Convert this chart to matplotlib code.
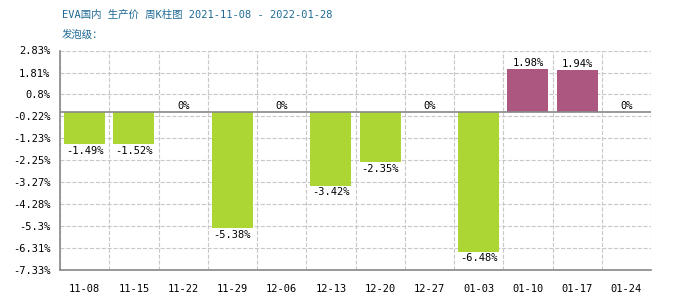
import matplotlib
matplotlib.use("Agg")
from matplotlib import pyplot as plt
import numpy as np

plt.rcParams['font.family'] = ['DejaVu Sans Mono', 'Noto Sans CJK SC']

weeks = ["11-08", "11-15", "11-22", "11-29", "12-06", "12-13",
         "12-20", "12-27", "01-03", "01-10", "01-17", "01-24"]
changes = [-1.49, -1.52, 0, -5.38, 0, -3.42, -2.35, 0, -6.48, 1.98, 1.94, 0]
yticks = [2.83, 1.81, 0.8, -0.22, -1.23, -2.25, -3.27, -4.28, -5.3, -6.31, -7.33]

green = "#acd634"
pink = "#ab5780"

fig = plt.figure(figsize=(7, 3), dpi=100)
ax = fig.add_axes([60/700, 30/300, 591/700, 219.5/300])

x = np.arange(len(weeks))
colors = [pink if v > 0 else green for v in changes]
ax.bar(x, changes, width=0.83, color=colors, zorder=3)

for xi, v in zip(x, changes):
    lab = f"{v:g}%"
    if v < 0:
        ax.text(xi, v - 0.08, lab, ha='center', va='top', fontsize=7.5, zorder=4)
    else:
        ax.text(xi, v + 0.03, lab, ha='center', va='bottom', fontsize=7.5, zorder=4)

ax.axhline(0, color='#888888', linewidth=1.2, zorder=3)

ax.set_xlim(-0.5, len(weeks) - 0.5)
ax.set_ylim(-7.33, 2.83)
ax.set_yticks(yticks)
ax.set_yticklabels([f"{t:g}%" for t in yticks], fontsize=7.5)
ax.set_xticks(x)
ax.set_xticklabels(weeks, fontsize=7.5)
ax.set_xticks(np.arange(len(weeks) + 1) - 0.5, minor=True)
ax.tick_params(axis='both', which='both', length=0)
ax.tick_params(axis='x', pad=10)
ax.tick_params(axis='y', pad=7)

ax.grid(True, which='minor', axis='x', linestyle='--', color='#c8c8c8', linewidth=0.8)
ax.grid(True, which='major', axis='y', linestyle='--', color='#c8c8c8', linewidth=0.8)

for s in ['top', 'right']:
    ax.spines[s].set_visible(False)
for s in ['left', 'bottom']:
    ax.spines[s].set_color('#888888')
    ax.spines[s].set_linewidth(1.2)

fig.text(62/700, 1 - 15/300, "EVA国内 生产价 周K柱图 2021-11-08 - 2022-01-28",
         color='#1f6a96', fontsize=7.5, va='center', ha='left')
fig.text(62/700, 1 - 35/300, "发泡级：", color='#1f6a96', fontsize=7.5,
         va='center', ha='left')

fig.savefig("out.png", dpi=100)
